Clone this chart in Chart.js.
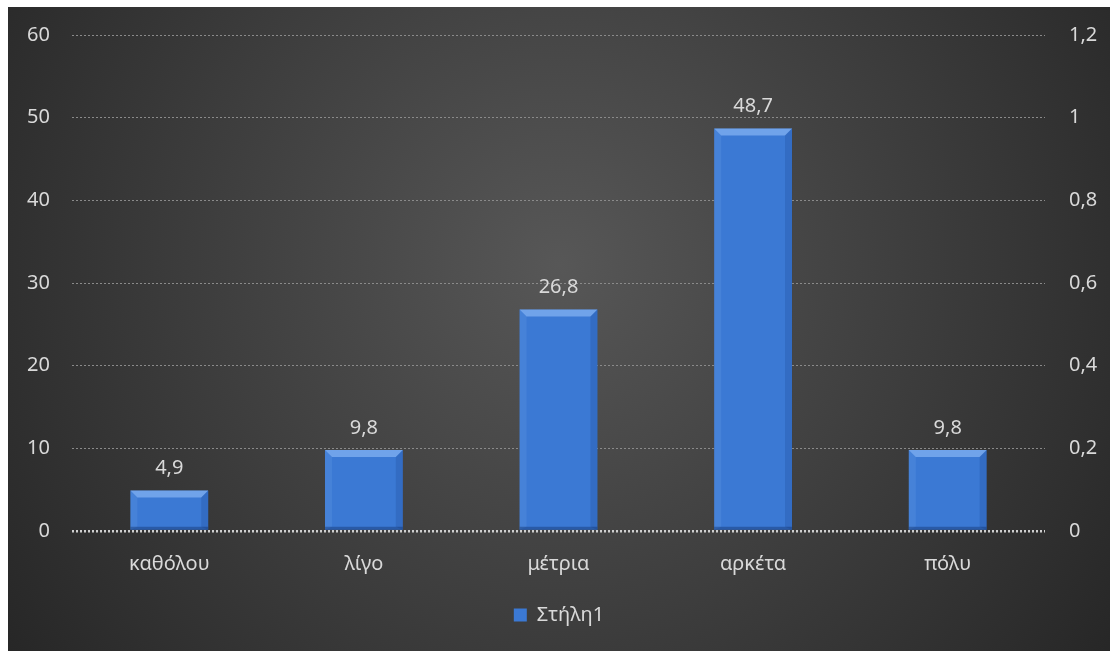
<!DOCTYPE html>
<html lang="el">
<head>
    <meta charset="UTF-8">
    <title>Στήλη1</title>
    <script src="https://cdn.jsdelivr.net/npm/chart.js"></script>
    <style>
        html, body { margin: 0; padding: 0; background: #ffffff; }
        .chart-box {
            position: absolute;
            left: 8px;
            top: 7px;
            width: 1102px;
            height: 644px;
        }
    </style>
</head>
<body>
    <div class="chart-box">
        <canvas id="bar-graph"></canvas>
    </div>

    <script>
        const categories = ['καθόλου', 'λίγο', 'μέτρια', 'αρκέτα', 'πόλυ'];
        const values = [4.9, 9.8, 26.8, 48.7, 9.8];
        const seriesName = 'Στήλη1';
        const leftMax = 60;
        const leftStep = 10;
        const rightMax = 1.2;
        const rightStep = 0.2;

        const textColor = '#d9d9d9';
        const fontFamily = '"Noto Sans", "Open Sans", sans-serif';

        function commaNum(v) {
            return String(Math.round(v * 10) / 10).replace('.', ',');
        }

        // dark radial background like the office chart style
        const backgroundPlugin = {
            id: 'bg',
            beforeDraw(chart) {
                const ctx = chart.ctx;
                const w = chart.width, h = chart.height;
                ctx.save();
                const g = ctx.createRadialGradient(w * 0.5, h * 0.4, 0, w * 0.5, h * 0.4, w * 0.62);
                g.addColorStop(0, '#575757');
                g.addColorStop(1, '#262626');
                ctx.fillStyle = g;
                ctx.fillRect(0, 0, w, h);
                ctx.restore();
            }
        };

        // bevel + value labels on top of the bars
        const barExtras = {
            id: 'barExtras',
            afterDatasetsDraw(chart) {
                const ctx = chart.ctx;
                const meta = chart.getDatasetMeta(0);
                ctx.save();
                meta.data.forEach((bar, i) => {
                    const left = bar.x - bar.width / 2;
                    const right = bar.x + bar.width / 2;
                    const top = bar.y;
                    const bottom = bar.base;
                    const b = 7;
                    // top bevel
                    ctx.fillStyle = 'rgba(165, 205, 255, 0.5)';
                    ctx.beginPath();
                    ctx.moveTo(left, top);
                    ctx.lineTo(right, top);
                    ctx.lineTo(right - b, top + b);
                    ctx.lineTo(left + b, top + b);
                    ctx.closePath();
                    ctx.fill();
                    // sides
                    ctx.fillStyle = 'rgba(120, 170, 240, 0.18)';
                    ctx.beginPath();
                    ctx.moveTo(left, top);
                    ctx.lineTo(left + b, top + b);
                    ctx.lineTo(left + b, bottom - 3);
                    ctx.lineTo(left, bottom);
                    ctx.closePath();
                    ctx.fill();
                    ctx.fillStyle = 'rgba(20, 60, 130, 0.2)';
                    ctx.beginPath();
                    ctx.moveTo(right, top);
                    ctx.lineTo(right - b, top + b);
                    ctx.lineTo(right - b, bottom - 3);
                    ctx.lineTo(right, bottom);
                    ctx.closePath();
                    ctx.fill();
                    // bottom shade
                    ctx.fillStyle = 'rgba(15, 45, 100, 0.4)';
                    ctx.fillRect(left, bottom - 3, bar.width, 3);

                    ctx.fillStyle = textColor;
                    ctx.font = '20px ' + fontFamily;
                    ctx.textAlign = 'center';
                    ctx.textBaseline = 'bottom';
                    ctx.fillText(commaNum(values[i]), bar.x, top - 12);
                });
                ctx.restore();
            }
        };

        const ctx = document.getElementById('bar-graph').getContext('2d');

        const barChart = new Chart(ctx, {
            type: 'bar',
            data: {
                labels: categories,
                datasets: [{
                    label: seriesName,
                    data: values,
                    backgroundColor: '#3b79d4',
                    borderWidth: 0,
                    barPercentage: 0.4,
                    categoryPercentage: 1.0,
                    yAxisID: 'y'
                }]
            },
            options: {
                responsive: true,
                maintainAspectRatio: false,
                animation: false,
                layout: { padding: { top: 28, left: 0, right: 0, bottom: 16 } },
                plugins: {
                    legend: {
                        position: 'bottom',
                        labels: {
                            color: textColor,
                            font: { family: fontFamily, size: 20 },
                            boxWidth: 13,
                            boxHeight: 13,
                            padding: 10
                        }
                    },
                    tooltip: { enabled: false }
                },
                scales: {
                    x: {
                        grid: { display: false },
                        border: { display: false },
                        ticks: {
                            color: textColor,
                            font: { family: fontFamily, size: 20 },
                            padding: 13
                        },
                        afterFit(axis) { axis.height = 64; }
                    },
                    y: {
                        position: 'left',
                        min: 0,
                        max: leftMax,
                        ticks: {
                            stepSize: leftStep,
                            color: textColor,
                            font: { family: fontFamily, size: 20 },
                            padding: 22
                        },
                        grid: {
                            drawTicks: false,
                            color: (c) => c.tick.value === 0 ? '#cfcfcf' : '#8a8a8a',
                            lineWidth: (c) => c.tick.value === 0 ? 2.5 : 1
                        },
                        border: { display: false, dash: [2, 2] },
                        afterFit(axis) { axis.width = 64; axis.paddingTop = 0; axis.paddingBottom = 0; }
                    },
                    y2: {
                        position: 'right',
                        min: 0,
                        max: rightMax,
                        ticks: {
                            stepSize: rightStep,
                            color: textColor,
                            font: { family: fontFamily, size: 20 },
                            padding: 16,
                            callback: (v) => commaNum(v)
                        },
                        grid: { display: false },
                        border: { display: false },
                        afterFit(axis) { axis.width = 65; axis.paddingTop = 0; axis.paddingBottom = 0; }
                    }
                }
            },
            plugins: [backgroundPlugin, barExtras]
        });
    </script>
</body>
</html>
